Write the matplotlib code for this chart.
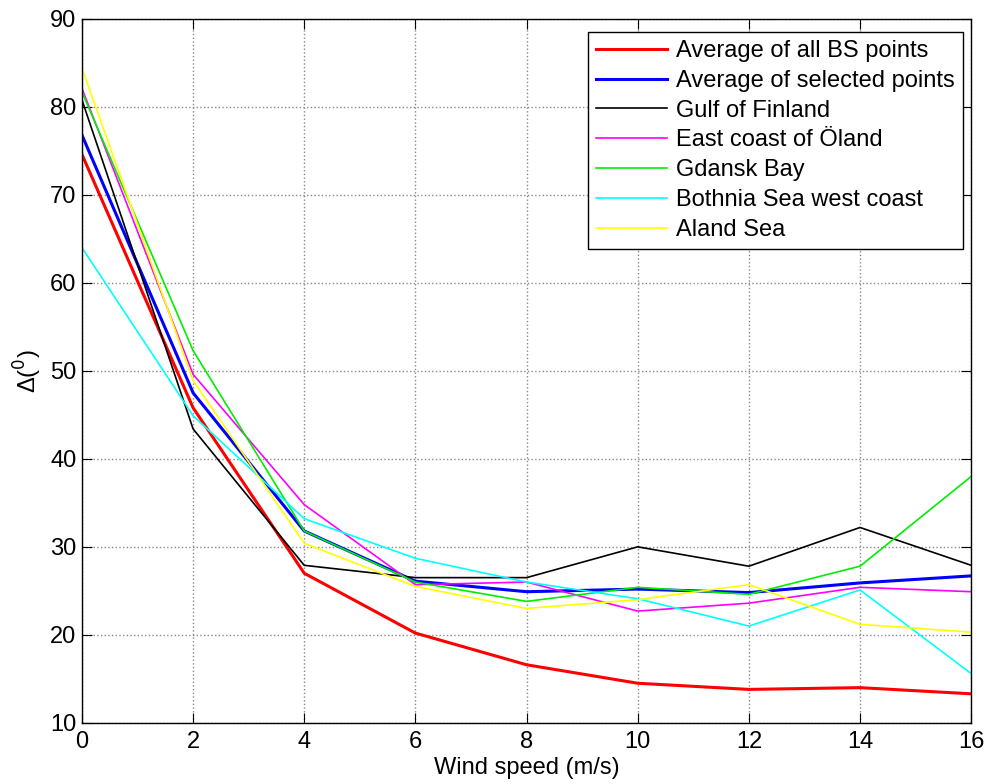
import matplotlib.pyplot as plt

plt.rcParams['font.family'] = ['Liberation Sans', 'DejaVu Sans']

# wind speed (m/s)
wind = [0, 2, 4, 6, 8, 10, 12, 14, 16]

# spread delta (degrees) per region
avg_all = [74.6, 45.8, 27.0, 20.2, 16.6, 14.5, 13.8, 14.0, 13.3]
avg_sel = [76.8, 47.5, 31.8, 26.1, 24.9, 25.2, 24.8, 25.9, 26.7]
gulf_finland = [80.8, 43.4, 27.9, 26.5, 26.5, 30.0, 27.8, 32.2, 27.9]
oland = [82.1, 49.6, 34.8, 25.7, 26.0, 22.7, 23.6, 25.4, 24.9]
gdansk = [81.7, 52.3, 31.8, 26.0, 23.8, 25.4, 24.6, 27.8, 38.0]
bothnia = [64.0, 44.9, 33.2, 28.7, 26.0, 24.1, 21.0, 25.1, 15.6]
aland = [84.4, 48.9, 30.4, 25.5, 23.0, 24.0, 25.7, 21.2, 20.3]

series = [
    ("Average of all BS points", avg_all, "red", 2.2),
    ("Average of selected points", avg_sel, "blue", 2.2),
    ("Gulf of Finland", gulf_finland, "black", 1.2),
    ("East coast of Öland", oland, "magenta", 1.2),
    ("Gdansk Bay", gdansk, "#00ee00", 1.2),
    ("Bothnia Sea west coast", bothnia, "cyan", 1.2),
    ("Aland Sea", aland, "yellow", 1.2),
]

fs = 17

fig = plt.figure(figsize=(9.87, 7.84), dpi=100)
ax = fig.add_axes([0.083, 0.078, 0.901, 0.898])

for name, vals, col, lw in series:
    ax.plot(wind, vals, color=col, linewidth=lw, label=name)

ax.set_xlim(0, 16)
ax.set_ylim(10, 90)
ax.set_xticks(range(0, 17, 2))
ax.set_yticks(range(10, 91, 10))
ax.tick_params(direction='in', top=True, right=True, labelsize=fs, length=7, pad=4)
ax.tick_params(axis='x', pad=6)
ax.grid(True, linestyle=':', color='#888888', linewidth=1.0)
for s in ax.spines.values():
    s.set_linewidth(1.0)

ax.set_xlabel('Wind speed (m/s)', fontsize=fs, labelpad=3)
ax.set_ylabel('Δ($^0$)', fontsize=fs, labelpad=4)

leg = ax.legend(loc='upper right', bbox_to_anchor=(0.991, 0.9815), fontsize=fs,
                fancybox=False, framealpha=1, edgecolor='black', handlelength=3.0,
                borderaxespad=0, labelspacing=0.33, handletextpad=0.4, borderpad=0.35)
leg.get_frame().set_linewidth(1.0)

fig.savefig('out.png', dpi=100)
